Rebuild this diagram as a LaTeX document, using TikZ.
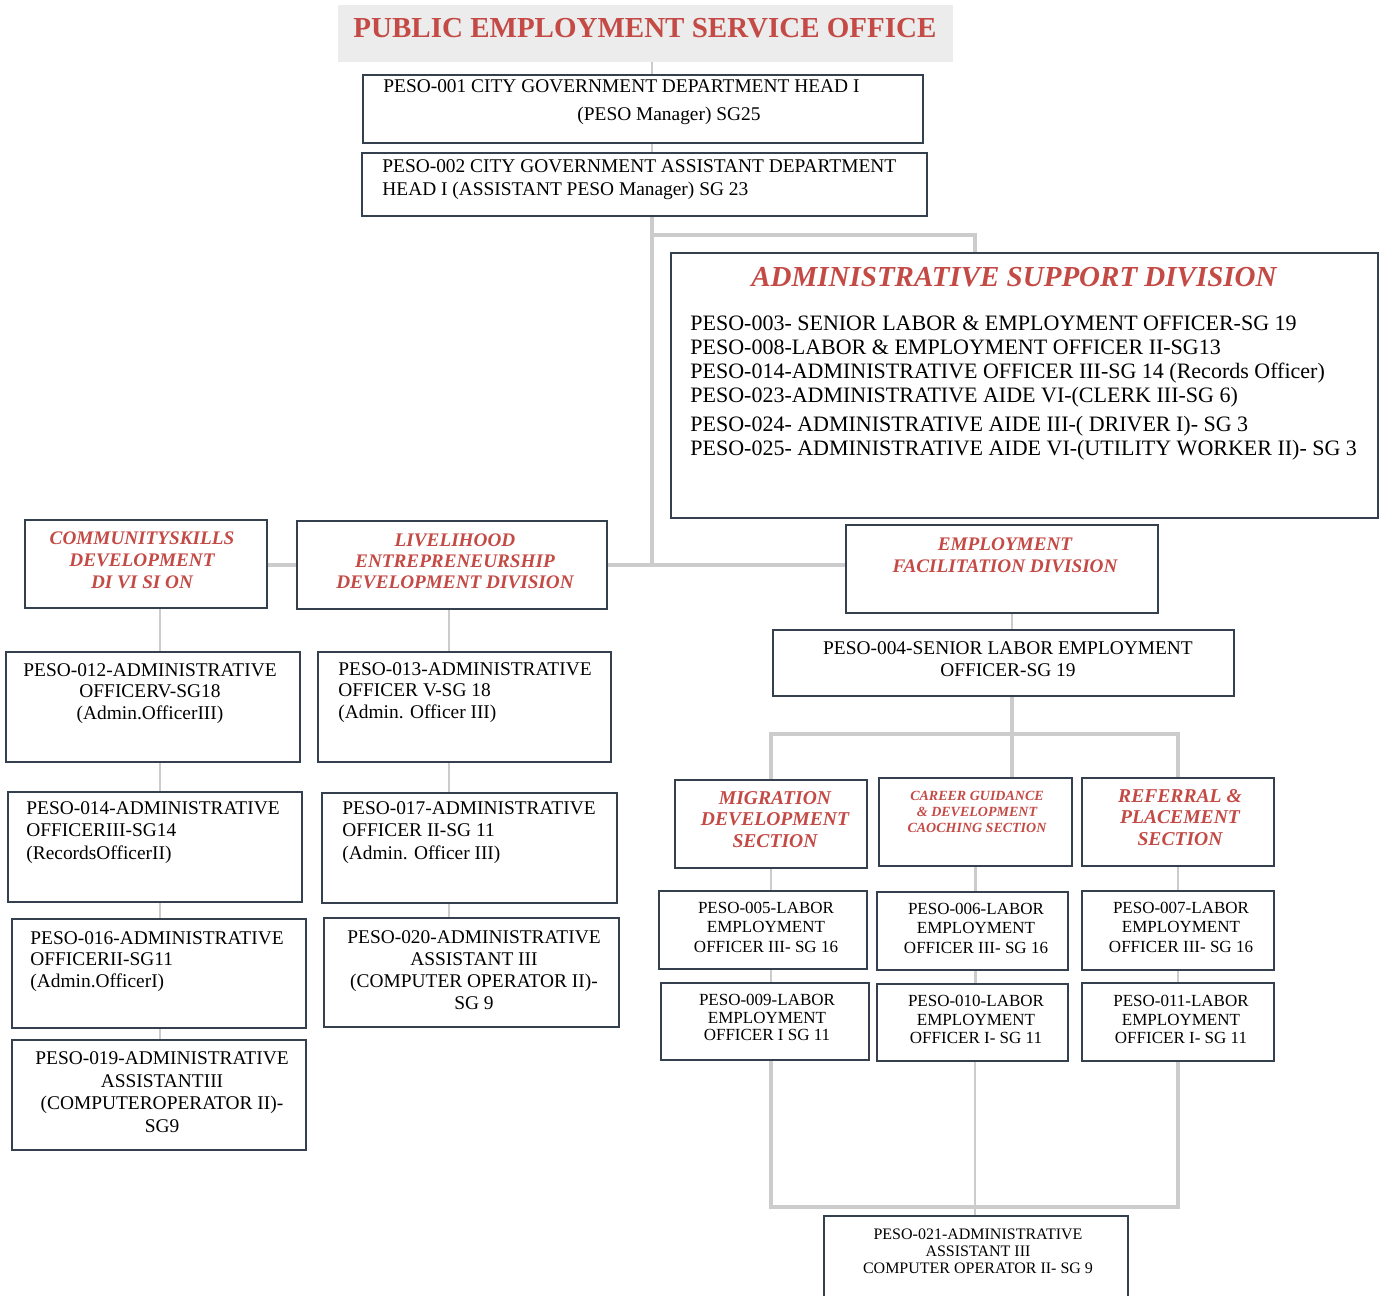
\documentclass[tikz,border=0pt]{standalone}
\usepackage{fontspec}
\setmainfont{Liberation Serif}
\usepackage{tikz}
\usetikzlibrary{fit,positioning}
\definecolor{pesored}{RGB}{196,74,70}
\definecolor{boxline}{RGB}{52,64,78}
\definecolor{linkgray}{RGB}{204,204,204}

\begin{document}
\begin{tikzpicture}[x=0.5pt, y=-0.5pt,
  box/.style={draw=boxline, line width=1pt, fill=white, inner sep=0pt},
  trunk/.style={draw=linkgray, line width=2.2pt},
  link/.style={draw=linkgray, line width=1.3pt},
  divtxt/.style={inner sep=0pt, anchor=north, align=center, text=pesored, font=\bfseries\itshape\fontsize{9.6}{11}\selectfont},
  postxt/.style={inner sep=0pt, anchor=north, align=center, font=\fontsize{9.7}{10.75}\selectfont},
  lpostxt/.style={postxt, align=left, anchor=north west},
  smalltxt/.style={postxt, font=\fontsize{8.5}{9.6}\selectfont}]
  \useasboundingbox (0,0) rectangle (1383,1296);

  % top of the chart
  \node[fill=gray!15, inner sep=0pt, fit={(338,5) (953,62)}] (ttl) {};
  \node[inner sep=0pt, text=pesored, font=\bfseries\fontsize{14.5}{16}\selectfont] (tttl) at (645,28) {PUBLIC EMPLOYMENT SERVICE OFFICE};
  \node[box, fit={(363,75) (923,143)}] (b001) {};
  \node[lpostxt, font=\fontsize{9.7}{14}\selectfont] (t001) at (383,79) {PESO-001 CITY GOVERNMENT DEPARTMENT HEAD I\\ \hspace*{97pt}(PESO Manager) SG25};
  \node[box, fit={(362,153) (927,216)}] (b002) {};
  \node[lpostxt, font=\fontsize{9.7}{11.5}\selectfont] (t002) at (382,159) {PESO-002 CITY GOVERNMENT ASSISTANT DEPARTMENT\\ HEAD I (ASSISTANT PESO Manager) SG 23};

  \node[box, fit={(671,253) (1378,518)}] (asd) {};
  \node[divtxt, font=\bfseries\itshape\fontsize{14.5}{16}\selectfont] (tasd) at (1014,267) {ADMINISTRATIVE SUPPORT DIVISION};
  \node[lpostxt, font=\fontsize{11}{12}\selectfont] (lasd) at (690,315) {PESO-003- SENIOR LABOR \& EMPLOYMENT OFFICER-SG 19\\ PESO-008-LABOR \& EMPLOYMENT OFFICER II-SG13\\ PESO-014-ADMINISTRATIVE OFFICER III-SG 14 (Records Officer)\\ PESO-023-ADMINISTRATIVE AIDE VI-(CLERK III-SG 6)\\[2.5pt] PESO-024- ADMINISTRATIVE AIDE III-( DRIVER I)- SG 3\\ PESO-025- ADMINISTRATIVE AIDE VI-(UTILITY WORKER II)- SG 3};

  % divisions
  \node[box, fit={(25,520) (267,608)}] (csd) {};
  \node[divtxt] (tcsd) at (142,531) {COMMUNITYSKILLS\\ DEVELOPMENT\\ DI VI SI ON};
  \node[box, fit={(297,521) (607,609)}] (led) {};
  \node[divtxt, font=\bfseries\itshape\fontsize{9.6}{10.5}\selectfont] (tled) at (455,533) {LIVELIHOOD\\ ENTREPRENEURSHIP\\ DEVELOPMENT DIVISION};
  \node[box, fit={(846,525) (1158,613)}] (efd) {};
  \node[divtxt] (tefd) at (1005,537) {EMPLOYMENT\\ FACILITATION DIVISION};
  \node[box, fit={(773,630) (1234,696)}] (b004) {};
  \node[postxt, font=\fontsize{9.7}{11}\selectfont] (t004) at (1008,641) {PESO-004-SENIOR LABOR EMPLOYMENT\\ OFFICER-SG 19};

  % community skills column
  \node[box, fit={(6,652) (300,762)}] (b012) {};
  \node[postxt] (t012) at (150,663) {PESO-012-ADMINISTRATIVE\\ OFFICERV-SG18\\ (Admin.OfficerIII)};
  \node[box, fit={(8,792) (302,902)}] (b014) {};
  \node[lpostxt, font=\fontsize{9.7}{11.25}\selectfont] (t014) at (26,801) {PESO-014-ADMINISTRATIVE\\ OFFICERIII-SG14\\ (RecordsOfficerII)};
  \node[box, fit={(12,919) (306,1028)}] (b016) {};
  \node[lpostxt] (t016) at (30,931) {PESO-016-ADMINISTRATIVE\\ OFFICERII-SG11\\ (Admin.OfficerI)};
  \node[box, fit={(12,1040) (306,1150)}] (b019) {};
  \node[postxt, font=\fontsize{9.7}{11.35}\selectfont] (t019) at (162,1051) {PESO-019-ADMINISTRATIVE\\ ASSISTANTIII\\ (COMPUTEROPERATOR II)-\\ SG9};

  % livelihood column
  \node[box, fit={(318,652) (611,762)}] (b013) {};
  \node[lpostxt] (t013) at (338,662) {PESO-013-ADMINISTRATIVE\\ OFFICER V-SG 18\\ (Admin. Officer III)};
  \node[box, fit={(322,793) (617,903)}] (b017) {};
  \node[lpostxt, font=\fontsize{9.7}{11.25}\selectfont] (t017) at (342,801) {PESO-017-ADMINISTRATIVE\\ OFFICER II-SG 11\\ (Admin. Officer III)};
  \node[box, fit={(324,918) (619,1027)}] (b020) {};
  \node[postxt, font=\fontsize{9.7}{11}\selectfont] (t020) at (474,930) {PESO-020-ADMINISTRATIVE\\ ASSISTANT III\\ (COMPUTER OPERATOR II)-\\ SG 9};

  % sections
  \node[box, fit={(675,780) (867,868)}] (mig) {};
  \node[divtxt, font=\bfseries\itshape\fontsize{9.8}{10.75}\selectfont] (tmig) at (775,791) {MIGRATION\\ DEVELOPMENT\\ SECTION};
  \node[box, fit={(879,778) (1072,866)}] (cgc) {};
  \node[divtxt, font=\bfseries\itshape\fontsize{7}{8}\selectfont] (tcgc) at (977,791) {CAREER GUIDANCE\\ \& DEVELOPMENT\\ CAOCHING SECTION};
  \node[box, fit={(1082,778) (1274,866)}] (rps) {};
  \node[divtxt, font=\bfseries\itshape\fontsize{9.8}{10.75}\selectfont] (trps) at (1180,789) {REFERRAL \&\\ PLACEMENT\\ SECTION};

  \node[box, fit={(659,891) (867,969)}] (b005) {};
  \node[smalltxt] (t005) at (766,902) {PESO-005-LABOR\\ EMPLOYMENT\\ OFFICER III- SG 16};
  \node[box, fit={(877,892) (1068,970)}] (b006) {};
  \node[smalltxt] (t006) at (976,903) {PESO-006-LABOR\\ EMPLOYMENT\\ OFFICER III- SG 16};
  \node[box, fit={(1082,891) (1274,970)}] (b007) {};
  \node[smalltxt] (t007) at (1181,902) {PESO-007-LABOR\\ EMPLOYMENT\\ OFFICER III- SG 16};
  \node[box, fit={(661,983) (869,1060)}] (b009) {};
  \node[smalltxt, font=\fontsize{8.5}{8.7}\selectfont] (t009) at (767,994) {PESO-009-LABOR\\ EMPLOYMENT\\ OFFICER I SG 11};
  \node[box, fit={(877,984) (1068,1061)}] (b010) {};
  \node[smalltxt, font=\fontsize{8.5}{9.3}\selectfont] (t010) at (976,995) {PESO-010-LABOR\\ EMPLOYMENT\\ OFFICER I- SG 11};
  \node[box, fit={(1082,983) (1274,1061)}] (b011) {};
  \node[smalltxt, font=\fontsize{8.5}{9.3}\selectfont] (t011) at (1181,995) {PESO-011-LABOR\\ EMPLOYMENT\\ OFFICER I- SG 11};
  \node[box, fit={(824,1216) (1128,1320)}] (b021) {};
  \node[smalltxt, font=\fontsize{8}{8.5}\selectfont] (t021) at (978,1228) {PESO-021-ADMINISTRATIVE\\ ASSISTANT III\\ COMPUTER OPERATOR II- SG 9};

  % connectors
  \coordinate (jt) at (652,565);
  \coordinate (ja) at (975,235);
  \coordinate (je) at (1012,734);
  \coordinate (jb) at (975,1207);
  \coordinate (jc) at (160,600);
  \coordinate (jl) at (449,600);
  \draw[link] (ttl.south -| jt) -- (b001.north -| jt);
  \draw[link] (b001.south -| jt) -- (b002.north -| jt);
  \draw[trunk] (b002.south -| jt) -- (jt);
  \draw[trunk] (ja -| jt) -- (ja) -- (ja |- asd.north);
  \draw[trunk] (csd.east |- jt) -- (led.west |- jt);
  \draw[trunk] (led.east |- jt) -- (efd.west |- jt);
  \draw[link] (efd.south -| je) -- (b004.north -| je);
  \draw[trunk] (b004.south -| je) -- (je);
  \draw[trunk] (mig.north) |- (je) -| (rps.north);
  \draw[trunk] (je) -- (cgc.north -| je);
  \draw[link] (mig.south) -- (mig.south |- b005.north);
  \draw[link] (cgc.south) -- (cgc.south |- b006.north);
  \draw[link] (rps.south) -- (rps.south |- b007.north);
  \draw[link] (mig.south |- b005.south) -- (mig.south |- b009.north);
  \draw[link] (cgc.south |- b006.south) -- (cgc.south |- b010.north);
  \draw[link] (rps.south |- b007.south) -- (rps.south |- b011.north);
  \draw[trunk] (mig.south |- b009.south) |- (jb) -| (rps.south |- b011.south);
  \draw[link] (b010.south -| jb) -- (b021.north -| jb);
  \draw[link] (csd.south -| jc) -- (b012.north -| jc);
  \draw[link] (b012.south -| jc) -- (b014.north -| jc);
  \draw[link] (b014.south -| jc) -- (b016.north -| jc);
  \draw[link] (b016.south -| jc) -- (b019.north -| jc);
  \draw[link] (led.south -| jl) -- (b013.north -| jl);
  \draw[link] (b013.south -| jl) -- (b017.north -| jl);
  \draw[link] (b017.south -| jl) -- (b020.north -| jl);
\end{tikzpicture}
\end{document}
